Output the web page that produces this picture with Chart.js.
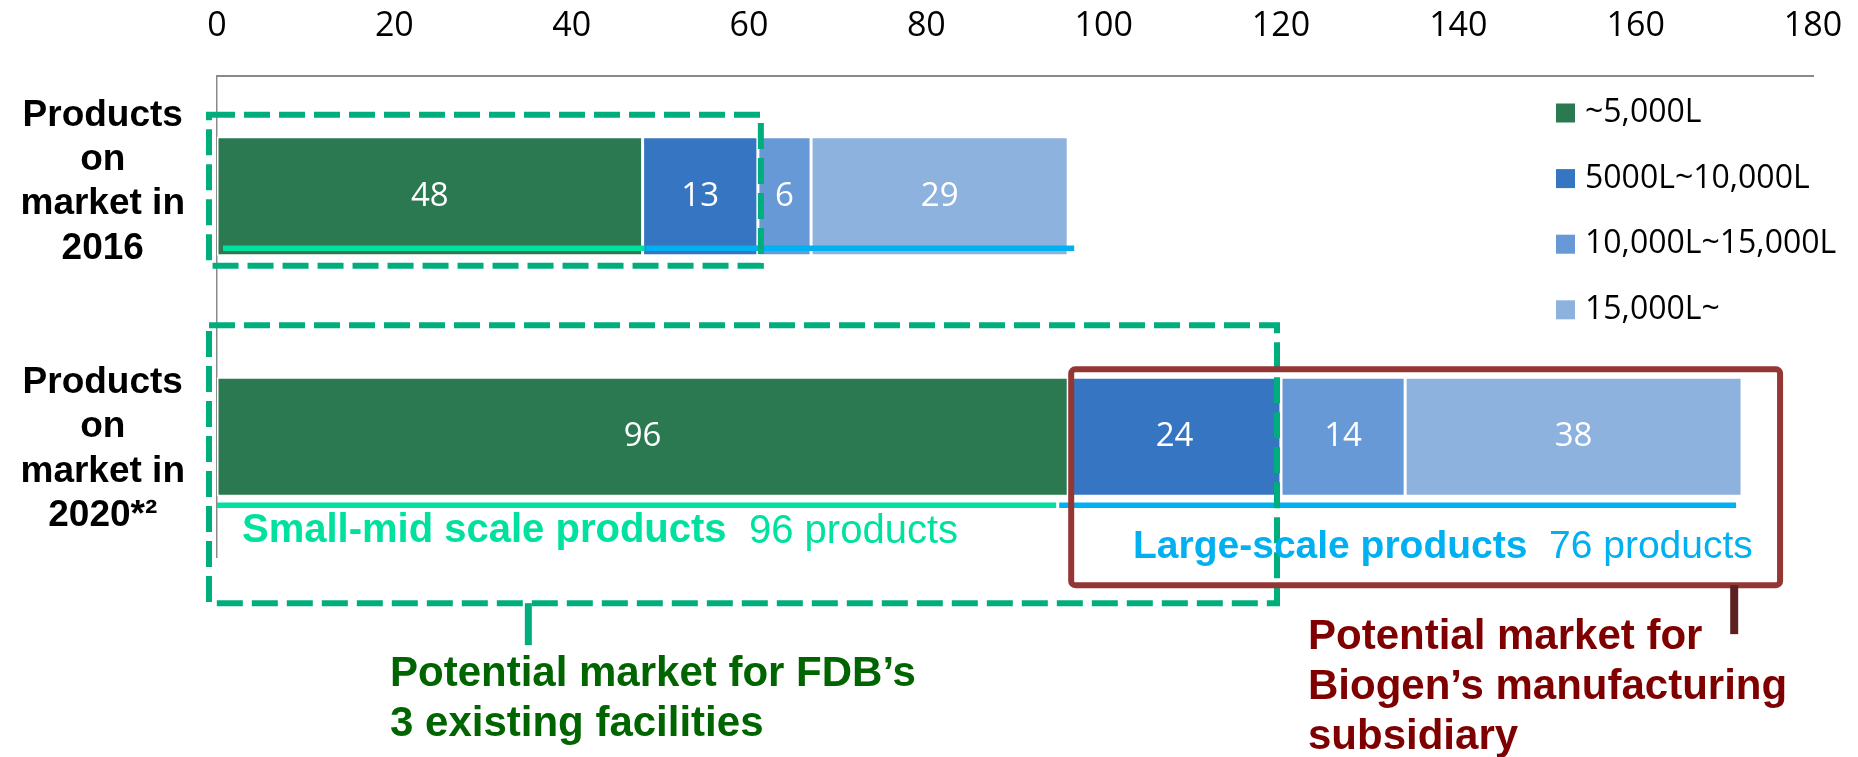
<!DOCTYPE html>
<html><head><meta charset="utf-8">
<script src="https://cdn.jsdelivr.net/npm/chart.js@4.4.0/dist/chart.umd.min.js"></script>
<style>html,body{margin:0;padding:0;background:#fff;overflow:hidden}#wrap{width:1858px;height:757px;position:relative}</style>
</head><body><div id="wrap"><canvas id="c" width="1858" height="757"></canvas></div>
<script>
// ---- data ----
const categories = [["Products","on","market in","2016"],["Products","on","market in","2020*²"]];
const seriesNames = ["~5,000L","5000L~10,000L","10,000L~15,000L","15,000L~"];
const upTo5000L = [48, 96];
const from5000To10000L = [13, 24];
const from10000To15000L = [6, 14];
const over15000L = [29, 38];
const xTickMin = 0, xTickMax = 180, xTickStep = 20;
const smallMidLabel = "Small-mid scale products";
const smallMidCount = "96 products";
const largeLabel = "Large-scale products";
const largeCount = "76 products";
const fdbNote = ["Potential market for FDB’s","3 existing facilities"];
const biogenNote = ["Potential market for","Biogen’s manufacturing","subsidiary"];

// ---- styles ----
const seriesColors = ["#2a7950","#3675c2","#6699d6","#8eb2de"];
const seriesValues = [upTo5000L, from5000To10000L, from10000To15000L, over15000L];
const numFont = '"Open Sans", "Noto Sans", sans-serif';

const valueLabels = {
  id:'valueLabels',
  afterDatasetsDraw(chart){
    const ctx = chart.ctx;
    ctx.save();
    ctx.font = '33px ' + numFont;
    ctx.fillStyle = '#fff';
    ctx.textAlign = 'center';
    ctx.textBaseline = 'middle';
    chart.data.datasets.forEach((ds,i)=>{
      chart.getDatasetMeta(i).data.forEach((bar,j)=>{
        const p = bar.getProps(['x','y','base'], true);
        ctx.fillText(String(ds.data[j]), (p.x+p.base)/2, p.y);
      });
    });
    ctx.restore();
  }
};

const decorations = {
  id:'decorations',
  afterDatasetsDraw(chart){
    const ctx = chart.ctx, xs = chart.scales.x;
    const X = v => xs.getPixelForValue(v);
    const bars = chart.getDatasetMeta(0).data;
    const t16 = bars[0].y - bars[0].height/2, b16 = bars[0].y + bars[0].height/2;
    const t20 = bars[1].y - bars[1].height/2, b20 = bars[1].y + bars[1].height/2;
    const tot = j => seriesValues.reduce((s,a)=>s+a[j],0);
    const green = '#00ae7d', aqua = '#00e09e', sky = '#00b0f0', maroon = '#943634';
    ctx.save();
    ctx.lineWidth = 5.5; ctx.lineCap = 'butt';
    const line = (x1,y1,x2,y2,c)=>{ctx.strokeStyle=c;ctx.beginPath();ctx.moveTo(x1,y1);ctx.lineTo(x2,y2);ctx.stroke();};
    line(X(0)+6, b16-7.5, X(upTo5000L[0])+2, b16-7.5, aqua);
    line(X(upTo5000L[0])+3, b16-7.5, X(tot(0))+6, b16-7.5, sky);
    line(X(0), b20+9, X(upTo5000L[1])-12, b20+9, aqua);
    line(X(upTo5000L[1])-9, b20+9, X(tot(1))-6, b20+9, sky);
    ctx.setLineDash([26,9]); ctx.lineWidth = 6; ctx.strokeStyle = green;
    ctx.strokeRect(X(0)-8, t16-22, (X(upTo5000L[0]+from5000To10000L[0])+3)-(X(0)-8), (b16+10)-(t16-22));
    ctx.strokeRect(X(0)-8, t20-52, (X(upTo5000L[1]+from5000To10000L[1])-4)-(X(0)-8), (b20+107)-(t20-52));
    ctx.setLineDash([]);
    ctx.lineWidth = 6; ctx.strokeStyle = maroon;
    const mx1 = X(upTo5000L[1])+3, mx2 = X(tot(1))+38, my1 = t20-8, my2 = b20+89;
    ctx.beginPath(); ctx.roundRect(mx1, my1, mx2-mx1, my2-my1, 4); ctx.stroke();
    ctx.lineWidth = 7; line(X(35)+1, b20+107, X(35)+1, b20+149, green);
    ctx.lineWidth = 8; line(X(171)+1, my2, X(171)+1, my2+49, '#5c2020');
    ctx.textBaseline = 'alphabetic'; ctx.textAlign = 'left';
    ctx.font = 'bold 40px "Liberation Sans", Arial, sans-serif'; ctx.fillStyle = aqua;
    ctx.fillText(smallMidLabel, 242, 542);
    ctx.font = '40px "Liberation Sans", Arial, sans-serif';
    ctx.fillText(smallMidCount, 749, 543);
    ctx.font = 'bold 39px "Liberation Sans", Arial, sans-serif'; ctx.fillStyle = sky;
    ctx.fillText(largeLabel, 1133, 558);
    ctx.font = '39px "Liberation Sans", Arial, sans-serif';
    ctx.fillText(largeCount, 1549, 558);
    ctx.font = 'bold 42px "Liberation Sans", Arial, sans-serif'; ctx.fillStyle = '#006400';
    fdbNote.forEach((s,i)=>ctx.fillText(s, 390, 686 + i*50));
    ctx.fillStyle = '#7f0000';
    biogenNote.forEach((s,i)=>ctx.fillText(s, 1308, 649 + i*50));
    ctx.restore();
  }
};

const sideLegend = {
  id:'sideLegend',
  afterDraw(chart){
    const ctx = chart.ctx;
    ctx.save();
    ctx.font = '32px ' + numFont;
    ctx.textBaseline = 'middle'; ctx.textAlign = 'left';
    chart.data.datasets.forEach((ds,i)=>{
      const y = 113 + i*65.6;
      ctx.fillStyle = ds.backgroundColor;
      ctx.fillRect(1556, y-9.5, 19, 19);
      ctx.fillStyle = '#000';
      ctx.fillText(ds.label, 1585, y);
    });
    ctx.restore();
  }
};

new Chart(document.getElementById('c'), {
  type:'bar',
  data:{
    labels: categories,
    datasets: seriesNames.map((n,i)=>({
      label:n, data:seriesValues[i], backgroundColor:seriesColors[i],
      borderColor:'#ffffff', borderWidth:1.5, borderSkipped:false,
      categoryPercentage:1, barPercentage:0.494
    }))
  },
  options:{
    indexAxis:'y', responsive:false, animation:false,
    layout:{padding:{left:0,right:45,top:0,bottom:200}},
    plugins:{legend:{display:false}, tooltip:{enabled:false}},
    scales:{
      x:{ position:'top', stacked:true, min:xTickMin, max:xTickMax,
          ticks:{stepSize:xTickStep, color:'#000', font:{family:numFont, size:34}, padding:29, maxRotation:0},
          grid:{display:false, drawTicks:false},
          border:{display:true, color:'#8a8a8a', width:2},
          afterFit(s){ s.height = 76; s.paddingLeft = 0; s.paddingRight = 0; } },
      y:{ stacked:true, display:false },
      yLabels:{ type:'linear', position:'left', reverse:true, min:-0.396, max:1.402, bounds:'data',
          offset:false,
          afterBuildTicks(s){ s.ticks = categories.map((c,i)=>({value:i})); },
          ticks:{autoSkip:false,
                 callback:(v)=> (categories[Math.round(v)] || ''),
                 color:'#000', crossAlign:'center', padding:32,
                 font:{family:'"Liberation Sans", Arial, sans-serif', size:37, weight:'bold', lineHeight:1.2}},
          grid:{display:false, drawTicks:false, offset:false},
          border:{display:true, color:'#8a8a8a', width:1.5},
          afterFit(s){ s.width = 217; s.paddingTop = 0; s.paddingBottom = 0; } }
    }
  },
  plugins:[valueLabels, decorations, sideLegend]
});
</script></body></html>
